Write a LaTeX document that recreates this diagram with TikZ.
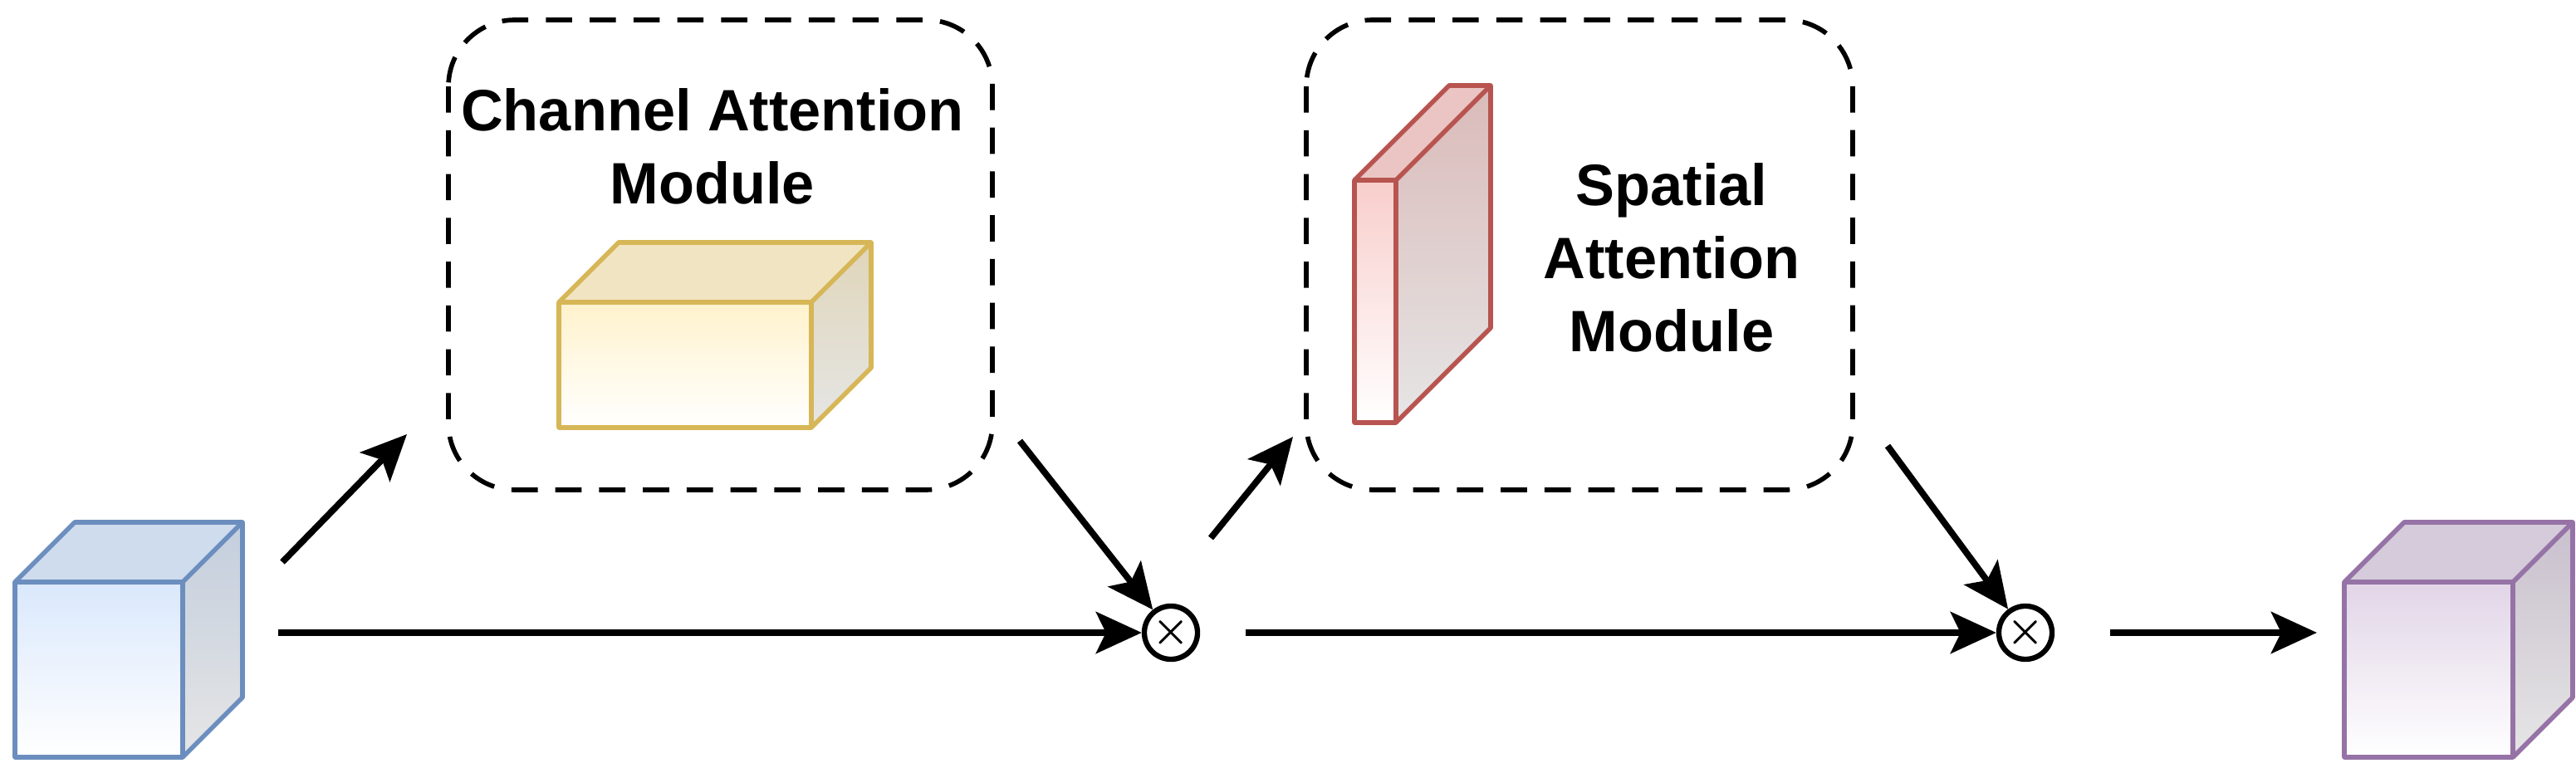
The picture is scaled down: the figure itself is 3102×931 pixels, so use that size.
\documentclass[tikz,border=0pt]{standalone}
\usepackage{amsmath,amsbsy}
\usepackage{fontspec}
\setmainfont{Liberation Sans}
\usetikzlibrary{arrows.meta}
\usetikzlibrary{positioning}
\definecolor{blueS}{HTML}{6C8EBF}\definecolor{blueF}{HTML}{DAE8FC}
\definecolor{yelS}{HTML}{D6B656}\definecolor{yelF}{HTML}{FFF2CC}
\definecolor{redS}{HTML}{B85450}\definecolor{redF}{HTML}{F8CECC}
\definecolor{purS}{HTML}{9673A6}\definecolor{purF}{HTML}{E1D5E7}
% #1 left, #2 top of front face, #3 width, #4 height, #5 depth, #6 stroke, #7 fill
\newcommand\cuboid[7]{
	\shade[top color=#7, bottom color=white] (#1,#2) rectangle ++(#3,#4);
	\fill[#7!88!gray] (#1,#2) -- ++(#5,-#5) -- ++(#3,0) -- ++(-#5,#5) -- cycle;
	\shade[top color=#7!75!gray, bottom color=gray!20] (#1+#3,#2) -- ++(#5,-#5) -- ++(0,#4) -- ++(-#5,#5) -- cycle;
	\draw[#6, line width=1.6pt, line join=round] (#1,#2) rectangle ++(#3,#4)
		(#1,#2) -- ++(#5,-#5) -- ++(#3,0) -- ++(0,#4) -- ++(-#5,#5)
		(#1+#3,#2) -- ++(#5,-#5);
}
\begin{document}
\begin{tikzpicture}
	[x=0.01cm,y=-0.01cm,
	 arr/.style={line width=2.2pt,-{Stealth[length=0.55cm,width=0.5cm,inset=0.12cm]}},
	 mult/.style={circle,draw,line width=1.8pt,minimum size=0.64cm,inner sep=0pt},
	 module/.style={draw,dashed,line width=1.6pt,rounded corners=0.8cm,dash pattern=on 9pt off 6pt},
	 title/.style={font=\fontsize{20}{25}\selectfont\bfseries,align=center}]
	\useasboundingbox (0,0) rectangle (3102,931);
	% modules
	\draw[module] (540,24) rectangle (1195,590);
	\draw[module] (1573,24) rectangle (2231,590);
	\node[title] (cam) at (858,176) {Channel Attention\\Module};
	\node[title] (sam) at (2013,310) {Spatial\\Attention\\Module};
	% feature maps
	\cuboid{18}{701}{202}{211}{72}{blueS}{blueF}
	\cuboid{673}{364}{304}{151}{72}{yelS}{yelF}
	\cuboid{1631}{217}{50}{292}{114}{redS}{redF}
	\cuboid{2823}{701}{203}{211}{72}{purS}{purF}
	% multiplications
	\node[mult] (m1) at (1410,762) {\Large$\boldsymbol\times$};
	\node[mult] (m2) at (2439,762) {\Large$\boldsymbol\times$};
	\coordinate (in1) at (335,762);
	\coordinate (in2) at (340,677);
	\coordinate (ca1) at (490,523);
	\coordinate (ca2) at (1228,531);
	\coordinate (sa1) at (1458,648);
	\coordinate (sa2) at (1557,526);
	\coordinate (sa3) at (2273,537);
	\coordinate (mo) at (1500,762);
	\coordinate (out1) at (2541,762);
	\coordinate (out2) at (2790,762);
	\draw[arr] (in1) -- (m1);
	\draw[arr] (in2) -- (ca1);
	\draw[arr] (ca2) -- (m1);
	\draw[arr] (sa1) -- (sa2);
	\draw[arr] (mo) -- (m2);
	\draw[arr] (sa3) -- (m2);
	\draw[arr] (out1) -- (out2);
\end{tikzpicture}
\end{document}
